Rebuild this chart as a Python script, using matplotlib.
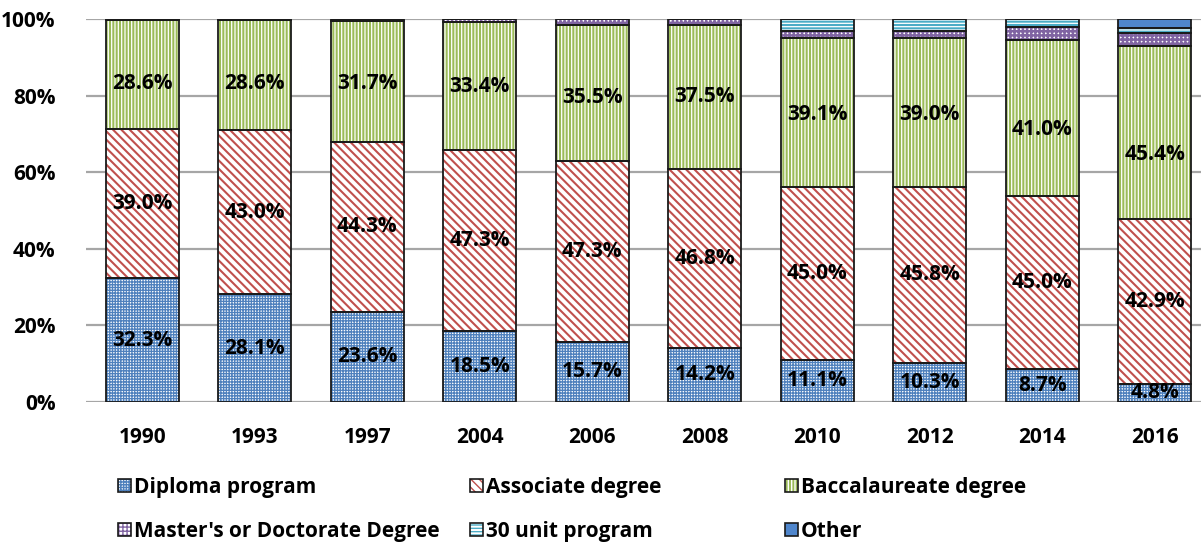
import matplotlib
matplotlib.use('Agg')
import matplotlib.pyplot as plt
from matplotlib.patches import Rectangle
from matplotlib.ticker import PercentFormatter

# Values (percent of each year's total)
years = ['1990', '1993', '1997', '2004', '2006', '2008', '2010', '2012', '2014', '2016']
diploma = [32.3, 28.1, 23.6, 18.5, 15.7, 14.2, 11.1, 10.3, 8.7, 4.8]
associate = [39.0, 43.0, 44.3, 47.3, 47.3, 46.8, 45.0, 45.8, 45.0, 42.9]
baccalaureate = [28.6, 28.6, 31.7, 33.4, 35.5, 37.5, 39.1, 39.0, 41.0, 45.4]
masters = [0.1, 0.2, 0.4, 0.8, 1.5, 1.5, 1.8, 1.9, 3.4, 3.3]
unit30 = [0.0, 0.1, 0.0, 0.0, 0.0, 0.0, 3.0, 3.0, 1.9, 1.2]
other = [0.0, 0.0, 0.0, 0.0, 0.0, 0.0, 0.0, 0.0, 0.0, 2.4]

series_names = ['Diploma program', 'Associate degree', 'Baccalaureate degree',
                "Master's or Doctorate Degree", '30 unit program', 'Other']
series_values = [diploma, associate, baccalaureate, masters, unit30, other]

# fill colour, hatch colour, hatch pattern, hatch width
styles = [
    ('white', '#4f81bd', '++++++', 0.95),
    ('white', '#c0504d', '\\\\\\\\', 1.5),
    ('#9bbb59', 'white', '|||||', 0.9),
    ('white', '#8064a2', '++++', 1.8),
    ('white', '#4bacc6', '-----', 1.5),
    ('#4f86cc', '#4f86cc', '', 1.0),
]
labelled = [True, True, True, False, False, False]
# small downward shifts (points) of the baccalaureate labels, as in the original
bacc_label_shift = [6.5, 6, 1.5, 0.5, 3.5, 0, 1.5, 1.5, 8, 16]

plt.rcParams['font.family'] = ['Open Sans', 'DejaVu Sans']
plt.rcParams['font.weight'] = 'bold'
plt.rcParams['font.size'] = 15

fig = plt.figure(figsize=(12.01, 5.44), dpi=100)
ax = fig.add_axes([86 / 1201, 1 - 402 / 544, 1125 / 1201, (402 - 19.3) / 544])

x = list(range(len(years)))
width = 0.65
bottom = [0.0] * len(years)
handles = []
for k, (name, vals) in enumerate(zip(series_names, series_values)):
    face, hcol, hatch, hlw = styles[k]
    plt.rcParams['hatch.linewidth'] = hlw
    fill = ax.bar(x, vals, width, bottom=bottom, color=face, edgecolor=hcol,
                  hatch=hatch, linewidth=0, zorder=2)
    for p in fill.patches:
        if hasattr(p, 'set_hatch_linewidth'):
            p.set_hatch_linewidth(hlw)
    ax.bar(x, vals, width, bottom=bottom, fill=False, edgecolor='#1a1a1a',
           linewidth=1.3, zorder=3)
    if labelled[k]:
        for i, v in enumerate(vals):
            shift = bacc_label_shift[i] if k == 2 else 0
            ax.annotate(f'{v:.1f}%', (i, bottom[i] + v / 2), xytext=(0, -shift),
                        textcoords='offset points', ha='center', va='center',
                        fontsize=15, fontweight='bold', zorder=4)
    hp = Rectangle((0, 0), 1, 1, facecolor=face, edgecolor=hcol, hatch=hatch, linewidth=0)
    if hasattr(hp, 'set_hatch_linewidth'):
        hp.set_hatch_linewidth(hlw)
    hb = Rectangle((0, 0), 1, 1, fill=False, edgecolor='#1a1a1a', linewidth=1.2)
    handles.append((hp, hb))
    bottom = [b + v for b, v in zip(bottom, vals)]

ax.set_xlim(-0.5, len(years) - 0.5)
ax.set_ylim(0, 100)
ax.set_yticks([0, 20, 40, 60, 80, 100])
ax.yaxis.set_major_formatter(PercentFormatter(decimals=0))
ax.set_xticks(x)
ax.set_xticklabels(years)
ax.tick_params(axis='both', length=0, labelsize=15)
ax.tick_params(axis='y', pad=22)
ax.tick_params(axis='x', pad=18)
ax.grid(axis='y', color='#a6a6a6', linewidth=1.6, zorder=0)
ax.set_axisbelow(True)
for s in ax.spines.values():
    s.set_visible(False)

# legend: three columns of two entries, equally spaced like the original
col_x = [118, 470, 785]
for c in range(3):
    hs = [handles[c], handles[c + 3]]
    ls = [series_names[c], series_names[c + 3]]
    fig.legend(hs, ls, loc='center left', bbox_to_anchor=(col_x[c] / 1201, 1 - 509.5 / 544),
               frameon=False, handlelength=0.6, handleheight=0.6, handletextpad=0.15,
               labelspacing=1.12, borderpad=0, borderaxespad=0,
               prop={'size': 15, 'weight': 'bold'})

fig.savefig('out.png', dpi=100)
